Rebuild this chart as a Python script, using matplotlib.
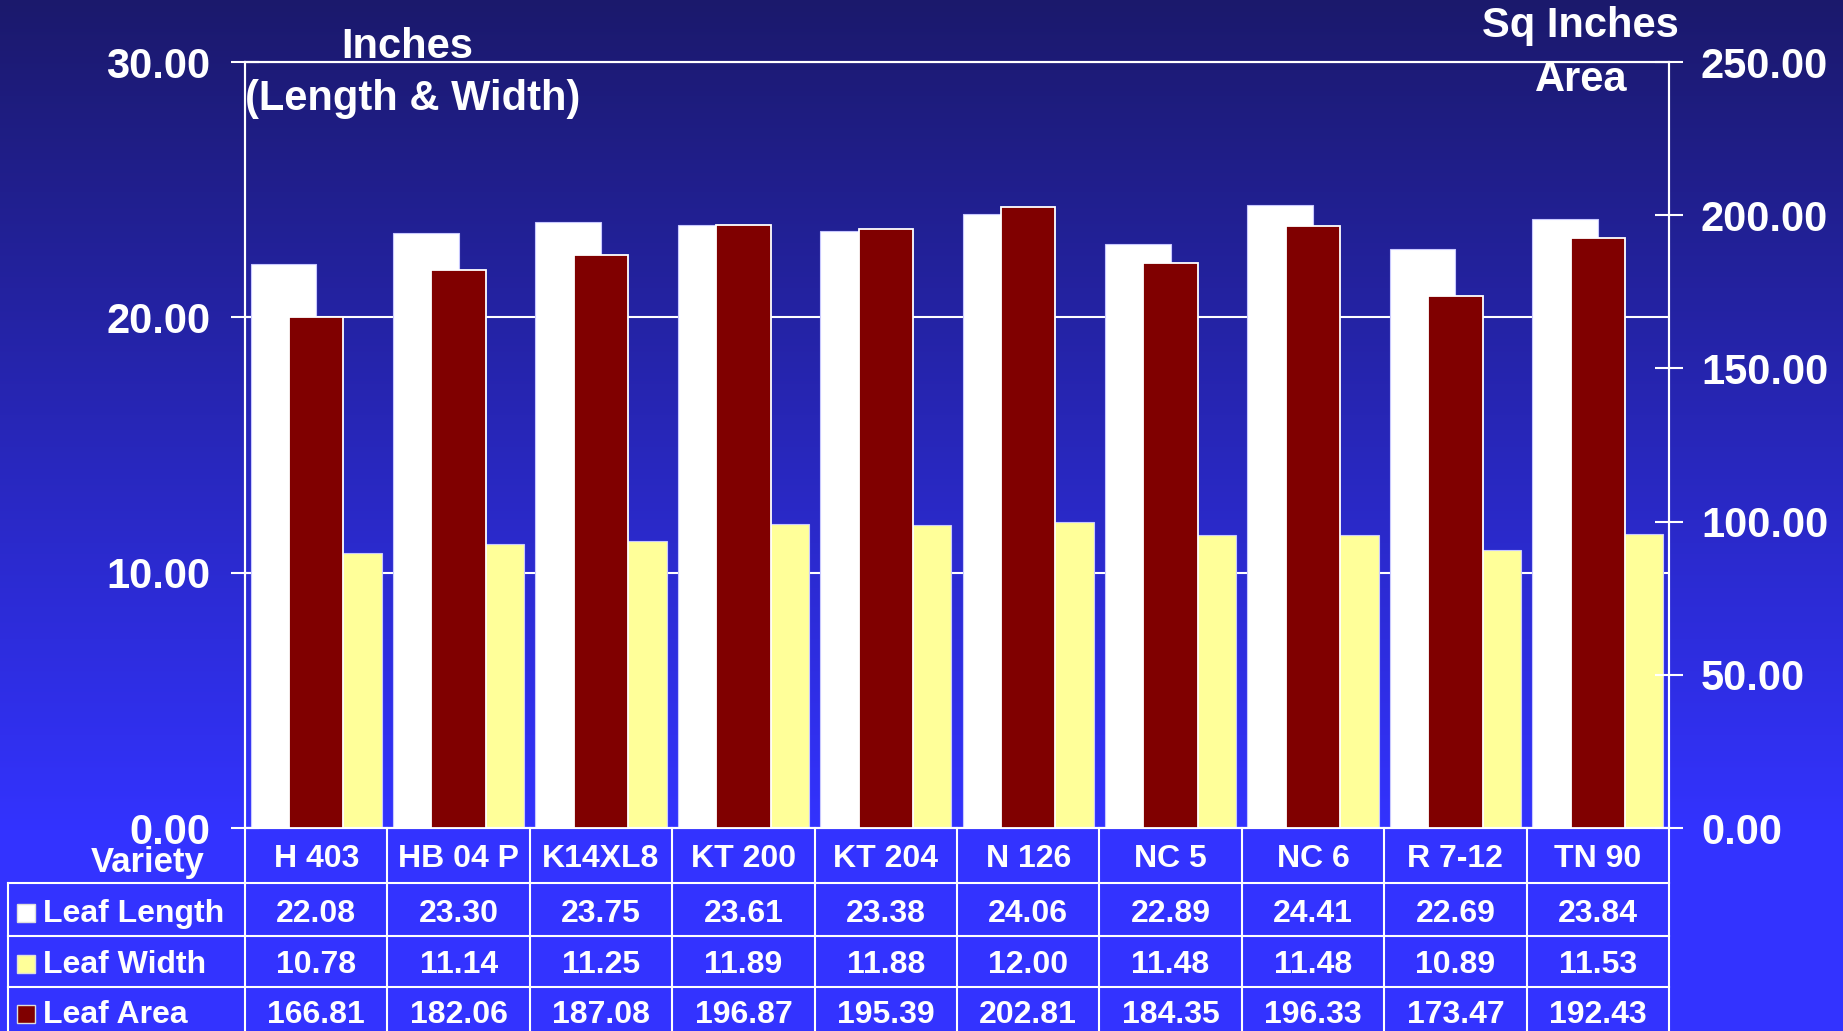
import matplotlib
matplotlib.use("Agg")
import matplotlib.pyplot as plt
import matplotlib.transforms as mtransforms
from matplotlib.patches import Rectangle
import numpy as np

plt.rcParams.update({
    "font.family": ["Liberation Sans", "DejaVu Sans"],
    "font.weight": "bold",
})

W, H = 1843, 1031
WHITE, MAROON, YELLOW, EDGE = "#FFFFFF", "#800000", "#FFFF99", "#C8C8FF"

# ---------------- data ----------------
varieties = ["H 403", "HB 04 P", "K14XL8", "KT 200", "KT 204",
             "N 126", "NC 5", "NC 6", "R 7-12", "TN 90"]
leaf_length = [22.08, 23.30, 23.75, 23.61, 23.38, 24.06, 22.89, 24.41, 22.69, 23.84]
leaf_width  = [10.78, 11.14, 11.25, 11.89, 11.88, 12.00, 11.48, 11.48, 10.89, 11.53]
leaf_area   = [166.81, 182.06, 187.08, 196.87, 195.39, 202.81, 184.35, 196.33, 173.47, 192.43]
row_labels  = ["Leaf Length", "Leaf Width", "Leaf Area"]
row_colors  = [WHITE, YELLOW, MAROON]
left_ticks  = [0, 10, 20, 30]
right_ticks = [0, 50, 100, 150, 200, 250]


def fx(x):
    return x / W


def fy(y):
    return 1 - y / H


fig = plt.figure(figsize=(W / 100, H / 100), dpi=100)

# gradient background: dark navy at top to bright blue near the table
bg = fig.add_axes([0, 0, 1, 1], zorder=-10)
yy = np.clip(np.arange(H) / 830.0, 0, 1)[:, None]
top = np.array([27, 25, 108]) / 255
bot = np.array([51, 51, 255]) / 255
grad = top + (bot - top) * yy
bg.imshow(grad[:, None, :].repeat(4, axis=1), aspect="auto", extent=[0, 1, 0, 1])
bg.axis("off")

# ---------------- bars ----------------
ax = fig.add_axes([fx(245), fy(828), fx(1669) - fx(245), fy(62) - fy(828)])
ax.set_facecolor("none")
x = np.arange(len(varieties))
bw = 0.461
ax.bar(x - bw / 2, leaf_length, bw, color=WHITE, edgecolor=EDGE, lw=0.8, zorder=2)
ax.bar(x + bw / 2, leaf_width, bw, color=YELLOW, edgecolor=EDGE, lw=0.8, zorder=2)
ax.set_xlim(-0.5, len(varieties) - 0.5)
ax.set_ylim(0, 30)
ax.set_yticks(left_ticks)
ax.set_yticklabels([f"{v:.2f}" for v in left_ticks])
ax.set_xticks([])
ax.set_axisbelow(True)
ax.yaxis.grid(True, color=WHITE, lw=1.5)
ax.tick_params(axis="y", direction="inout", length=20, width=1.5, colors=WHITE,
               labelsize=30, pad=15)

ax2 = ax.twinx()
ax2.set_facecolor("none")
ax2.bar(x, leaf_area, 0.383, color=MAROON, edgecolor=WHITE, lw=1.3, zorder=3)
ax2.set_ylim(0, 250)
ax2.set_yticks(right_ticks)
ax2.set_yticklabels([f"{v:.2f}" for v in right_ticks])
ax2.tick_params(axis="y", direction="inout", length=20, width=1.5, colors=WHITE,
                labelsize=30, pad=13)
for a in (ax, ax2):
    for s in a.spines.values():
        s.set_color(WHITE)
        s.set_linewidth(1.5)
for lab in ax.get_yticklabels() + ax2.get_yticklabels():
    lab.set_fontweight("bold")

# axis titles
fig.text(fx(407), fy(58), "Inches", color=WHITE, fontsize=30, ha="center", va="baseline")
fig.text(fx(413), fy(110), "(Length & Width)", color=WHITE, fontsize=30,
         ha="center", va="baseline")
fig.text(fx(1580), fy(37), "Sq Inches", color=WHITE, fontsize=30, ha="center", va="baseline")
fig.text(fx(1581), fy(91), "Area", color=WHITE, fontsize=30, ha="center", va="baseline")

# ---------------- data table ----------------
trans = mtransforms.blended_transform_factory(ax.transData, fig.transFigure)
row_edges = [828, 883, 936, 987, 1040]
baselines = [867, 922, 973, 1023]
line_kw = dict(color=WHITE, lw=1.5, zorder=5)

for xe in np.arange(len(varieties) + 1) - 0.5:
    fig.add_artist(plt.Line2D([xe, xe], [fy(828), fy(1040)], transform=trans,
                              clip_on=False, **line_kw))
for ye in row_edges[1:4]:
    fig.add_artist(plt.Line2D([fx(8), fx(1669)], [fy(ye), fy(ye)],
                              transform=fig.transFigure, **line_kw))
fig.add_artist(plt.Line2D([fx(8), fx(8)], [fy(883), fy(1040)],
                          transform=fig.transFigure, **line_kw))

fig.text(fx(205), fy(872), "Variety", color=WHITE, fontsize=25, ha="right", va="baseline")
for i, name in enumerate(varieties):
    fig.text(i, fy(baselines[0]), name, transform=trans, color=WHITE, fontsize=23,
             ha="center", va="baseline")

for r, (label, vals, col) in enumerate(zip(row_labels, [leaf_length, leaf_width, leaf_area],
                                           row_colors)):
    base = baselines[r + 1]
    fig.add_artist(Rectangle((fx(17), fy(base)), fx(18), 18 / H, transform=fig.transFigure,
                             facecolor=col, edgecolor="#DDDDDD", lw=1, zorder=6))
    fig.text(fx(43), fy(base), label, color=WHITE, fontsize=23, ha="left", va="baseline")
    for i, v in enumerate(vals):
        fig.text(i, fy(base), f"{v:.2f}", transform=trans, color=WHITE, fontsize=23,
                 ha="center", va="baseline")

fig.savefig("out.png", dpi=100)
